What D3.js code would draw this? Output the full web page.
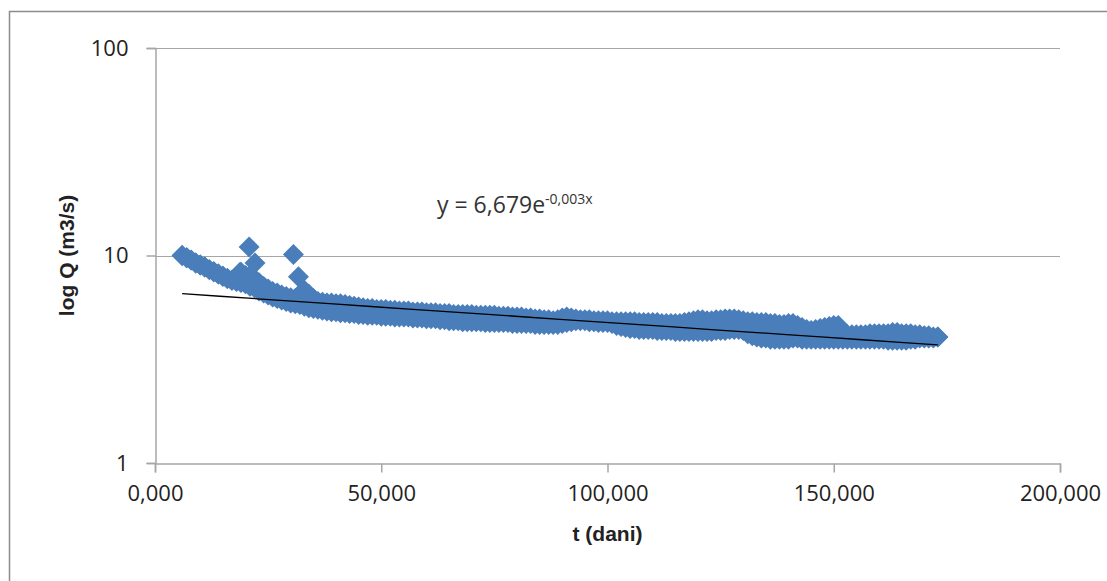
<!DOCTYPE html>
<html>
<head>
<meta charset="utf-8">
<script src="https://cdn.jsdelivr.net/npm/d3@7"></script>
<style>
  body { margin: 0; background: #fff; }
</style>
</head>
<body>
<div id="chart"></div>
<script>
// dnevni protoci: gornja i donja očitanja za svaki dan, prvi dan = 6
const firstDay = 6;
const flowHigh = [
  10.0, 9.75, 9.5, 9.2, 9.0, 8.8, 8.55, 8.35, 8.15, 7.95,
  7.75, 7.6, 7.9, 8.3, 8.0, 8.0, 7.7, 7.4, 7.1, 6.9,
  6.7, 6.6, 6.45, 6.35, 6.25, 6.2, 6.5, 6.8, 6.5, 6.2,
  6.0, 5.95, 5.9, 5.9, 5.85, 5.85, 5.8, 5.75, 5.7, 5.65,
  5.6, 5.55, 5.55, 5.5, 5.5, 5.5, 5.45, 5.45, 5.4, 5.4,
  5.4, 5.35, 5.35, 5.35, 5.3, 5.3, 5.3, 5.25, 5.25, 5.25,
  5.2, 5.2, 5.2, 5.2, 5.2, 5.15, 5.15, 5.15, 5.15, 5.15,
  5.1, 5.1, 5.1, 5.05, 5.05, 5.05, 5.0, 5.0, 4.95, 4.95,
  4.9, 4.9, 4.85, 4.9, 5.0, 5.05, 5.0, 4.95, 4.9, 4.9,
  4.9, 4.85, 4.85, 4.85, 4.85, 4.8, 4.8, 4.8, 4.8, 4.8,
  4.8, 4.75, 4.75, 4.75, 4.75, 4.75, 4.7, 4.7, 4.7, 4.7,
  4.7, 4.75, 4.8, 4.85, 4.9, 4.9, 4.85, 4.85, 4.9, 4.9,
  4.95, 4.95, 4.95, 4.9, 4.85, 4.8, 4.8, 4.75, 4.75, 4.75,
  4.7, 4.7, 4.65, 4.65, 4.7, 4.7, 4.6, 4.5, 4.4, 4.35,
  4.4, 4.45, 4.5, 4.55, 4.6, 4.6, 4.3, 4.15, 4.15, 4.15,
  4.15, 4.15, 4.2, 4.2, 4.2, 4.2, 4.2, 4.25, 4.25, 4.2,
  4.2, 4.2, 4.15, 4.15, 4.1, 4.1, 4.05, 4.05
];
const flowLow = [
  10.0, 9.75, 9.5, 9.2, 9.0, 8.8, 8.55, 8.35, 8.15, 7.95,
  7.75, 7.6, 7.5, 7.4, 7.3, 7.1, 7.0, 6.75, 6.6, 6.45,
  6.3, 6.2, 6.1, 6.0, 5.9, 5.85, 5.8, 5.7, 5.6, 5.55,
  5.5, 5.45, 5.4, 5.35, 5.35, 5.3, 5.3, 5.25, 5.25, 5.2,
  5.2, 5.15, 5.15, 5.15, 5.1, 5.1, 5.1, 5.05, 5.05, 5.05,
  5.05, 5.0, 5.0, 5.0, 4.95, 4.95, 4.95, 4.9, 4.9, 4.85,
  4.85, 4.85, 4.8, 4.8, 4.8, 4.8, 4.8, 4.75, 4.75, 4.75,
  4.75, 4.75, 4.75, 4.7, 4.7, 4.7, 4.7, 4.7, 4.65, 4.65,
  4.65, 4.65, 4.65, 4.65, 4.7, 4.75, 4.8, 4.85, 4.85, 4.85,
  4.8, 4.8, 4.75, 4.75, 4.75, 4.7, 4.6, 4.55, 4.5, 4.45,
  4.45, 4.4, 4.4, 4.4, 4.4, 4.35, 4.35, 4.35, 4.35, 4.3,
  4.3, 4.3, 4.3, 4.3, 4.3, 4.3, 4.3, 4.3, 4.35, 4.35,
  4.35, 4.4, 4.4, 4.4, 4.35, 4.2, 4.1, 4.05, 4.0, 4.0,
  3.95, 3.95, 3.95, 3.95, 3.95, 4.0, 4.0, 3.95, 3.95, 3.95,
  3.95, 3.95, 3.95, 3.95, 3.95, 3.95, 3.95, 3.95, 3.95, 3.95,
  3.95, 3.95, 3.95, 3.95, 3.95, 3.95, 3.9, 3.9, 3.9, 3.9,
  3.9, 3.95, 3.95, 4.0, 4.0, 4.0, 4.0, 4.05
];

// pojedinačni vršni protoci
const peakDays = [18.8, 20.8, 22.1, 30.6, 31.7];
const peakFlow = [8.3, 11.0, 9.2, 10.1, 7.9];

// eksponencijalni trend y = a * e^(k x)
const trendA = 6.679;
const trendK = -0.0034;
const trendLabel = "y = 6,679e";
const trendExp = "-0,003x";

const xTicks = [0, 50, 100, 150, 200];
const yTicks = [1, 10, 100];

const width = 1107, height = 581;
const plot = { left: 155, right: 1060, top: 48, bottom: 463 };

const svg = d3.select("#chart")
  .append("svg")
  .attr("width", width)
  .attr("height", height);

// okvir grafikona (izlazi izvan slike desno i dolje)
svg.append("rect")
  .attr("x", 9.5).attr("y", 11.5)
  .attr("width", 1200).attr("height", 700)
  .attr("fill", "#fff")
  .attr("stroke", "#8c8c8c")
  .attr("stroke-width", 1.5);

const x = d3.scaleLinear().domain([0, 200]).range([plot.left, plot.right]);
const y = d3.scaleLog().domain([1, 100]).range([plot.bottom, plot.top]);

const fmtX = (v) => d3.format(".3f")(v).replace(".", ",");

// horizontalne linije mreže
svg.append("g")
  .selectAll("line")
  .data(yTicks.slice(1))
  .join("line")
  .attr("x1", plot.left).attr("x2", plot.right)
  .attr("y1", (d) => Math.round(y(d)) + 0.5)
  .attr("y2", (d) => Math.round(y(d)) + 0.5)
  .attr("stroke", "#a6a6a6")
  .attr("stroke-width", 1);

// osi
const xAxis = svg.append("g")
  .attr("transform", `translate(0,${plot.bottom + 0.5})`)
  .call(d3.axisBottom(x).tickValues(xTicks).tickFormat(fmtX).tickSize(9).tickPadding(10));

const yAxis = svg.append("g")
  .attr("transform", `translate(${plot.left + 0.5},0)`)
  .call(d3.axisLeft(y).tickValues(yTicks).tickFormat(d3.format("d")).tickSize(9).tickPadding(18));

[xAxis, yAxis].forEach((ax) => {
  ax.select(".domain").attr("stroke", "#a6a6a6").attr("stroke-width", 1.5);
  ax.selectAll(".tick line").attr("stroke", "#a6a6a6").attr("stroke-width", 1.5);
  ax.selectAll("text")
    .attr("fill", "#222")
    .style("font-family", "'Open Sans', sans-serif")
    .style("font-size", "22px");
});
xAxis.selectAll(".tick text").attr("dy", "0.85em");

// točke
const points = flowHigh.map((v, i) => ({ t: firstDay + i, q: v }))
  .concat(flowLow.map((v, i) => ({ t: firstDay + i, q: v })))
  .concat(peakDays.map((t, i) => ({ t: t, q: peakFlow[i] })));

const diamond = d3.symbol().type(d3.symbolSquare).size(220);

svg.append("g")
  .selectAll("path")
  .data(points)
  .join("path")
  .attr("d", diamond)
  .attr("transform", (d) => `translate(${x(d.t)},${y(d.q)}) rotate(45)`)
  .attr("fill", "#4a7ebb");

// linija trenda
const tMin = d3.min(points, (d) => d.t);
const tMax = d3.max(points, (d) => d.t);
const trend = d3.range(0, 21).map((i) => tMin + (tMax - tMin) * i / 20);

svg.append("path")
  .datum(trend)
  .attr("d", d3.line().x((t) => x(t)).y((t) => y(trendA * Math.exp(trendK * t))))
  .attr("fill", "none")
  .attr("stroke", "#000")
  .attr("stroke-width", 1.3);

// jednadžba trenda
const eq = svg.append("text")
  .attr("x", 437).attr("y", 213)
  .attr("fill", "#333")
  .style("font-family", "'Open Sans', sans-serif")
  .style("font-size", "23px");
eq.append("tspan").text(trendLabel);
eq.append("tspan").attr("dy", -9).style("font-size", "14px").text(trendExp);

// naslovi osi
svg.append("text")
  .attr("x", plot.left + (plot.right - plot.left) / 2)
  .attr("y", 541)
  .attr("text-anchor", "middle")
  .style("font-family", "'Liberation Sans', sans-serif")
  .style("font-weight", "bold")
  .style("font-size", "21px")
  .attr("fill", "#222")
  .text("t (dani)");

svg.append("text")
  .attr("transform", `translate(74,${(plot.top + plot.bottom) / 2}) rotate(-90)`)
  .attr("text-anchor", "middle")
  .style("font-family", "'Liberation Sans', sans-serif")
  .style("font-weight", "bold")
  .style("font-size", "21px")
  .attr("fill", "#222")
  .text("log Q (m3/s)");
</script>
</body>
</html>
